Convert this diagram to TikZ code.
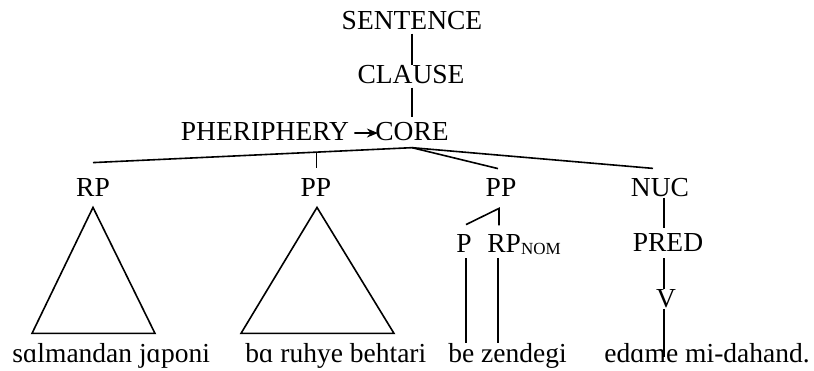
\documentclass[tikz,border=0pt]{standalone}
\usepackage{fontspec}
\setmainfont{Liberation Serif}
\usetikzlibrary{arrows.meta, calc}

\begin{document}
\begin{tikzpicture}[
    x=0.5pt, y=-0.5pt,
    cat/.style={inner sep=0pt, anchor=base, font=\fontsize{13.75}{16}\selectfont},
    word/.style={inner sep=0pt, anchor=base west, font=\fontsize{13.75}{16}\selectfont},
    branch/.style={line width=0.8pt},
    link/.style={-{Stealth[length=5.5pt, width=4.5pt]}, line width=0.8pt},
]
    \useasboundingbox (0,0) rectangle (814,370);

    % Top levels
    \node[cat] (sentence) at (412,29) {SENTENCE};
    \node[cat] (clause) at (411,83) {CLAUSE};
    \node[cat] (periph) at (265,140) {PHERIPHERY};
    \node[cat] (core) at (412,140) {CORE};

    % Constituents
    \node[cat] (rp) at (93,196) {RP};
    \node[cat] (ppa) at (316,196) {PP};
    \node[cat] (ppb) at (501,196) {PP};
    \node[cat] (nuc) at (660,196) {NUC};
    \node[cat] (p) at (464,252) {P};
    \node[cat, anchor=base west] (rpnom) at (487,252) {RP\raisebox{-1pt}{\fontsize{8.5}{9}\selectfont NOM}};
    \node[cat] (pred) at (668,251) {PRED};
    \node[cat] (v) at (666,307) {V};

    % Words
    \node[word] (wa) at (12,362) {sɑlmandan jɑponi};
    \node[word] (wb) at (245,362) {bɑ ruhye behtari};
    \node[word] (wc) at (448,362) {be zendegi};
    \node[word] (wd) at (604,362) {edɑme mi-dahand.};

    % Spine
    \draw[branch] (sentence.south) ++(0,4) -- ($(sentence.south |- clause.north)+(0,1)$);
    \draw[branch] ($(clause.south)+(1,4)$) -- ($(clause.south |- core.north)+(1,-4)$);
    \draw[link] ($(periph.east)+(5,2)$) -- ($(core.west)+(3,2)$);

    % Core branches
    \coordinate (fork) at ($(core.south)+(0,7)$);
    \draw[branch] (fork) -- coordinate[pos=0.3] (ppajoin) ($(rp.north)+(0,-15)$);
    \draw[branch] (ppajoin) -- ($(ppajoin |- ppa.north)+(0,-10)$);
    \draw[branch] (fork) -- ($(ppb.north)+(-3,-9)$);
    \draw[branch] (fork) -- ($(nuc.north)+(-7,-9)$);

    % Triangles
    \draw[branch] ($(rp.south)+(0,11)$) -- ++(62,126) -- ++(-123,0) -- cycle;
    \draw[branch] ($(ppa.south)+(1,11)$) -- ++(77,126) -- ++(-153,0) -- cycle;

    % PP with P and RP
    \coordinate (ppbfork) at ($(ppb.south)+(-2,12)$);
    \draw[branch] ($(p.north)+(2,-9)$) -- (ppbfork) -- ++(0,17);
    \draw[branch] ($(p.south)+(2,6)$) -- ($(p.south |- wc.north)+(2,0)$);
    \draw[branch] ($(rpnom.base west)+(11,6)$) -- ($(rpnom.base west |- wc.north)+(11,0)$);

    % Nucleus
    \draw[branch] ($(nuc.south)+(4,1)$) -- ($(nuc.south |- pred.north)+(4,-5)$);
    \draw[branch] ($(pred.south)+(-4,7)$) -- ($(pred.south |- v.north)+(-4,0)$);
    \draw[branch] ($(v.south)+(-2,1)$) -- ($(v.south |- wd.base)+(-2,-5)$);
\end{tikzpicture}
\end{document}
